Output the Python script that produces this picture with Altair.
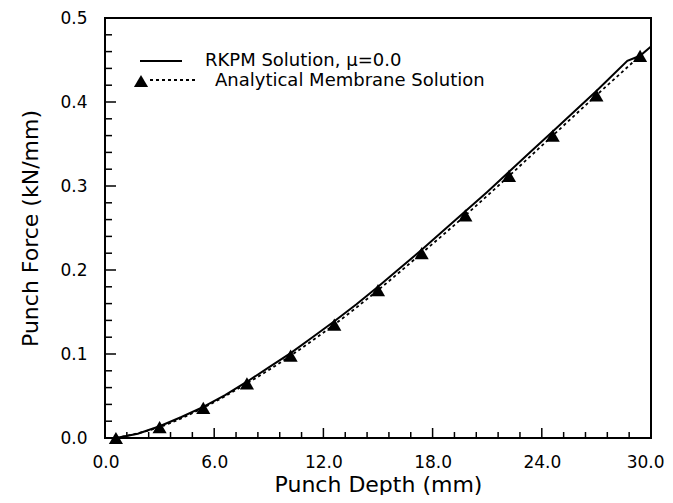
import altair as alt
import pandas as pd

# ---- data ----
tri_x = [0.6, 3.0, 5.4, 7.8, 10.2, 12.6, 15.0, 17.4, 19.8, 22.2, 24.6, 27.0, 29.4]
tri_y = [0.000, 0.013, 0.036, 0.065, 0.098, 0.135, 0.176, 0.220, 0.265, 0.312, 0.360, 0.408, 0.455]

rkpm_x = [0.6, 1.8, 3.0, 4.2, 5.4, 6.6, 7.8, 9.0, 10.2, 11.4, 12.6, 13.8, 15.0,
          16.2, 17.4, 18.6, 19.8, 21.0, 22.2, 23.4, 24.6, 25.8, 27.0, 28.7, 29.4, 30.0]
rkpm_y = [0.000, 0.005, 0.014, 0.025, 0.037, 0.051, 0.067, 0.084, 0.101, 0.120, 0.139,
          0.159, 0.180, 0.202, 0.224, 0.247, 0.270, 0.293, 0.317, 0.341, 0.365, 0.389,
          0.413, 0.449, 0.455, 0.466]

x_major = [0.0, 6.0, 12.0, 18.0, 24.0, 30.0]
x_minor = [1.2, 2.4, 3.6, 4.8, 7.2, 8.4, 9.6, 10.8, 13.2, 14.4, 15.6, 16.8,
           19.2, 20.4, 21.6, 22.8, 25.2, 26.4, 27.6, 28.8]
y_major = [0.0, 0.1, 0.2, 0.3, 0.4, 0.5]
y_minor = [0.02, 0.04, 0.06, 0.08, 0.12, 0.14, 0.16, 0.18, 0.22, 0.24, 0.26, 0.28,
           0.32, 0.34, 0.36, 0.38, 0.42, 0.44, 0.46, 0.48]

legend_labels = ["RKPM Solution, \u03bc=0.0", "Analytical Membrane Solution"]

W, H = 546, 420
FONT = "DejaVu Sans"

rkpm = pd.DataFrame({"x": rkpm_x, "y": rkpm_y})
anal = pd.DataFrame({"x": tri_x, "y": tri_y})

xs = alt.Scale(domain=[0, 30], nice=False, zero=False)
ys = alt.Scale(domain=[0, 0.5], nice=False, zero=False)

x_axis = alt.Axis(values=x_major, format=".1f", ticks=False, domain=False, grid=False,
                  labelPadding=16, labelFlush=True, labelFlushOffset=13,
                  title="Punch  Depth  (mm)",
                  titleY=46, titleBaseline="middle",
                  labelFont=FONT, labelFontSize=17, labelColor="black",
                  titleFont=FONT, titleFontSize=22, titleColor="black",
                  titleFontWeight="normal")
y_axis = alt.Axis(values=y_major, format=".1f", ticks=False, domain=False, grid=False,
                  labelPadding=18, labelFlush=False, title="Punch  Force  (kN/mm)",
                  titleX=-75, titleBaseline="middle", titleAngle=-90,
                  labelFont=FONT, labelFontSize=17, labelColor="black",
                  titleFont=FONT, titleFontSize=22, titleColor="black",
                  titleFontWeight="normal")

X = alt.X("x:Q", scale=xs, axis=x_axis)
Y = alt.Y("y:Q", scale=ys, axis=y_axis)

line_rkpm = alt.Chart(rkpm).mark_line(color="black", strokeWidth=2).encode(x=X, y=Y)
line_anal = alt.Chart(anal).mark_line(color="black", strokeWidth=1.8, strokeDash=[3, 3],
                                      interpolate="monotone").encode(x=X, y=Y)
tris = alt.Chart(anal).mark_point(shape="triangle-up", filled=True, color="black",
                                  opacity=1, size=200).encode(x=X, y=Y)

xmaj = alt.Chart(pd.DataFrame({"x": x_major})).mark_rule(color="black", strokeWidth=1.5).encode(
    x=X, y=alt.value(H), y2=alt.value(H - 10))
xmin = alt.Chart(pd.DataFrame({"x": x_minor})).mark_rule(color="black", strokeWidth=1.5).encode(
    x=X, y=alt.value(H), y2=alt.value(H - 6))
ymaj = alt.Chart(pd.DataFrame({"y": y_major})).mark_rule(color="black", strokeWidth=1.5).encode(
    y=Y, x=alt.value(0), x2=alt.value(11))
ymin = alt.Chart(pd.DataFrame({"y": y_minor})).mark_rule(color="black", strokeWidth=1.5).encode(
    y=Y, x=alt.value(0), x2=alt.value(7))

# ---- legend (top-left, inside the frame) ----
leg1 = pd.DataFrame({"t": [legend_labels[0]]})
leg2 = pd.DataFrame({"t": [legend_labels[1]]})
leg_line = alt.Chart(leg1).mark_rule(color="black", strokeWidth=2).encode(
    x=alt.value(35), x2=alt.value(77), y=alt.value(43))
leg_text1 = alt.Chart(leg1).mark_text(align="left", baseline="middle", font=FONT,
                                      fontSize=18, color="black").encode(
    x=alt.value(100), y=alt.value(43), text="t:N")
leg_dash = alt.Chart(leg2).mark_rule(color="black", strokeWidth=1.8, strokeDash=[3, 3]).encode(
    x=alt.value(45), x2=alt.value(91), y=alt.value(62))
leg_tri = alt.Chart(leg2).mark_point(shape="triangle-up", filled=True, color="black",
                                     opacity=1, size=200).encode(
    x=alt.value(36), y=alt.value(63))
leg_text2 = alt.Chart(leg2).mark_text(align="left", baseline="middle", font=FONT,
                                      fontSize=18, color="black").encode(
    x=alt.value(110), y=alt.value(63), text="t:N")

chart = alt.layer(
    line_rkpm, line_anal, tris, xmaj, xmin, ymaj, ymin,
    leg_line, leg_text1, leg_dash, leg_tri, leg_text2
).properties(
    width=W, height=H,
    padding={"left": 97, "top": 10, "right": 14, "bottom": 57},
    autosize=alt.AutoSizeParams(type="none"),
    background="white",
).configure_view(
    stroke="black", strokeWidth=2
)

chart.save("out.html", embed_options={"renderer": "svg", "actions": False})
